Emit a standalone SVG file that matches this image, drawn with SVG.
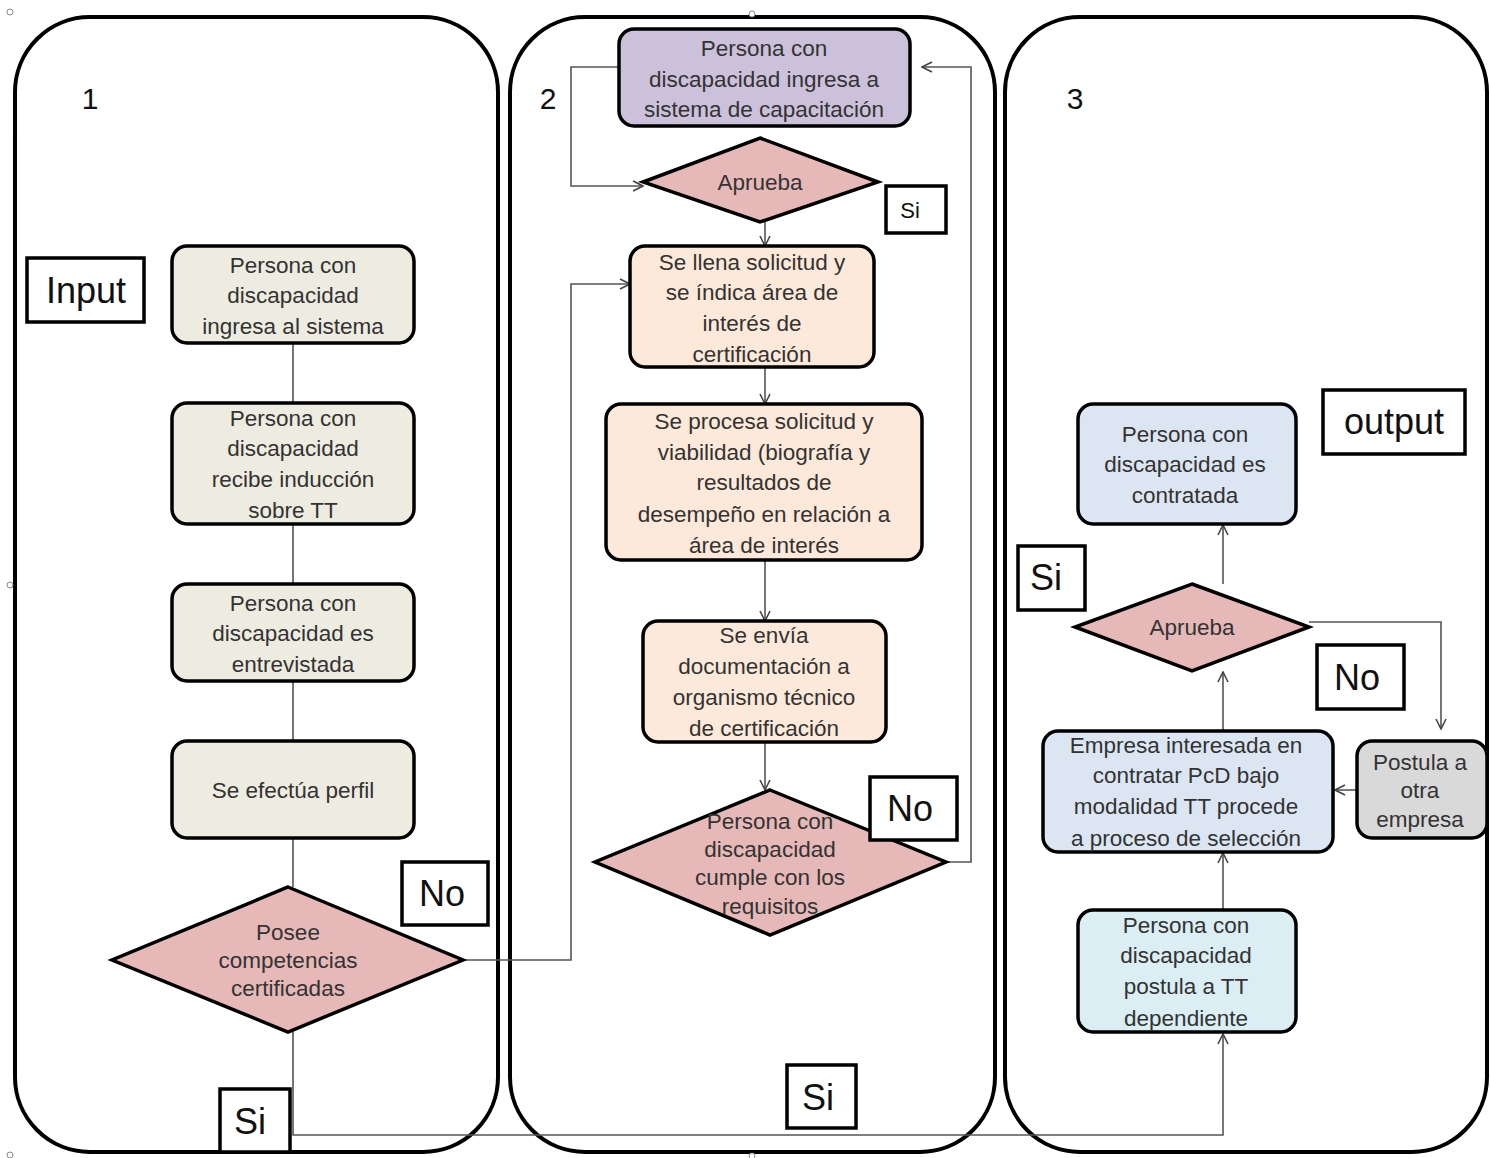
<svg xmlns="http://www.w3.org/2000/svg" width="1490" height="1158" viewBox="0 0 1490 1158">
<defs>
<marker id="arr" viewBox="0 0 12 12" refX="11" refY="6" markerWidth="12" markerHeight="12" markerUnits="userSpaceOnUse" orient="auto">
<path d="M1,1 L11,6 L1,11" fill="none" stroke="#444" stroke-width="1.6"/>
</marker>
<style>
.panel{fill:none;stroke:#000;stroke-width:4}
.node{stroke:#000;stroke-width:3.5}
.beige{fill:#eeece1}
.peach{fill:#fde9d9}
.purple{fill:#ccc1da}
.blue{fill:#dce6f2}
.cyan{fill:#daeef3}
.gray{fill:#d9d9d9}
.dia{fill:#e6b9b8;stroke:#000;stroke-width:3.5}
.lbl{fill:#fff;stroke:#000;stroke-width:3.5}
text{font-family:"Liberation Sans",Arial,sans-serif;fill:#333;text-anchor:middle;dominant-baseline:central}
.t{font-size:22.5px}
.big{font-size:36px;fill:#111}
.num{font-size:30px;fill:#111}
.conn{fill:none;stroke:#555;stroke-width:1.6}
.handle{fill:#fff;stroke:#888;stroke-width:1}
</style>
</defs>
<rect width="1490" height="1158" fill="#fff"/>

<g id="panels">
<rect class="panel" x="15" y="17" width="483" height="1135" rx="75"/>
<rect class="panel" x="510" y="17" width="485" height="1135" rx="75"/>
<rect class="panel" x="1005" y="17" width="482" height="1135" rx="75"/>
<text class="num" x="90" y="98">1</text>
<text class="num" x="548" y="98">2</text>
<text class="num" x="1075" y="98">3</text>
</g>

<g id="handles">
<circle class="handle" cx="10" cy="12" r="3"/>
<circle class="handle" cx="752" cy="14" r="3"/>
<circle class="handle" cx="10" cy="585" r="3"/>
<circle class="handle" cx="10" cy="1155" r="3"/>
<circle class="handle" cx="752" cy="1156" r="3"/>
</g>

<g id="connectors">
<path class="conn" d="M293,343 V403 M293,524 V584 M293,681 V741 M293,838 V887"/>
<path class="conn" d="M293,1032 V1135 H1223 V1034" marker-end="url(#arr)"/>
<path class="conn" d="M463,960 H571 V284 H630" marker-end="url(#arr)"/>
<path class="conn" d="M619,67 H571 V186 H643" marker-end="url(#arr)"/>
<path class="conn" d="M765,222 V246" marker-end="url(#arr)"/>
<path class="conn" d="M765,367 V404" marker-end="url(#arr)"/>
<path class="conn" d="M765,560 V621" marker-end="url(#arr)"/>
<path class="conn" d="M765,742 V790" marker-end="url(#arr)"/>
<path class="conn" d="M946,862 H971 V67 H922" marker-end="url(#arr)"/>
<path class="conn" d="M1223,584 V525" marker-end="url(#arr)"/>
<path class="conn" d="M1309,622 H1441 V729" marker-end="url(#arr)"/>
<path class="conn" d="M1223,731 V672" marker-end="url(#arr)"/>
<path class="conn" d="M1357,790 H1335" marker-end="url(#arr)"/>
<path class="conn" d="M1223,910 V853" marker-end="url(#arr)"/>
</g>

<g id="input-label">
<rect class="lbl" x="27" y="258" width="117" height="64"/>
<text class="big" x="86" y="290">Input</text>
</g>

<g id="n1-ingresa">
<rect class="node beige" x="172" y="246" width="242" height="97" rx="15"/>
<text class="t" x="293" y="265">Persona con</text>
<text class="t" x="293" y="295">discapacidad</text>
<text class="t" x="293" y="326">ingresa al sistema</text>
</g>

<g id="n1-induccion">
<rect class="node beige" x="172" y="403" width="242" height="121" rx="15"/>
<text class="t" x="293" y="418">Persona con</text>
<text class="t" x="293" y="448">discapacidad</text>
<text class="t" x="293" y="479">recibe inducción</text>
<text class="t" x="293" y="510">sobre TT</text>
</g>

<g id="n1-entrevistada">
<rect class="node beige" x="172" y="584" width="242" height="97" rx="15"/>
<text class="t" x="293" y="603">Persona con</text>
<text class="t" x="293" y="633">discapacidad es</text>
<text class="t" x="293" y="664">entrevistada</text>
</g>

<g id="n1-perfil">
<rect class="node beige" x="172" y="741" width="242" height="97" rx="15"/>
<text class="t" x="293" y="790">Se efectúa perfil</text>
</g>

<g id="d1-posee">
<polygon class="dia" points="288,887 463,960 288,1032 112,960"/>
<text class="t" x="288" y="932">Posee</text>
<text class="t" x="288" y="960">competencias</text>
<text class="t" x="288" y="988">certificadas</text>
</g>

<g id="lbl-no1">
<rect class="lbl" x="402" y="862" width="86" height="63"/>
<text class="big" x="442" y="893">No</text>
</g>

<g id="lbl-si1">
<rect class="lbl" x="220" y="1089" width="70" height="63"/>
<text class="big" x="250" y="1121">Si</text>
</g>

<g id="n2-capacitacion">
<rect class="node purple" x="619" y="29" width="291" height="97" rx="15"/>
<text class="t" x="764" y="48">Persona con</text>
<text class="t" x="764" y="79">discapacidad ingresa a</text>
<text class="t" x="764" y="109">sistema de capacitación</text>
</g>

<g id="d2-aprueba">
<polygon class="dia" points="760,138 878,182 760,222 643,182"/>
<text class="t" x="760" y="182">Aprueba</text>
</g>

<g id="lbl-si2a">
<rect class="lbl" x="886" y="186" width="60" height="47"/>
<text x="910" y="210" style="font-size:22px;fill:#111">Si</text>
</g>

<g id="n2-solicitud">
<rect class="node peach" x="630" y="246" width="244" height="121" rx="15"/>
<text class="t" x="752" y="262">Se llena solicitud y</text>
<text class="t" x="752" y="292">se índica área de</text>
<text class="t" x="752" y="323">interés de</text>
<text class="t" x="752" y="354">certificación</text>
</g>

<g id="n2-procesa">
<rect class="node peach" x="606" y="404" width="316" height="156" rx="15"/>
<text class="t" x="764" y="421">Se procesa solicitud y</text>
<text class="t" x="764" y="452">viabilidad (biografía y</text>
<text class="t" x="764" y="482">resultados de</text>
<text class="t" x="764" y="514">desempeño en relación a</text>
<text class="t" x="764" y="545">área de interés</text>
</g>

<g id="n2-envia">
<rect class="node peach" x="643" y="621" width="243" height="121" rx="15"/>
<text class="t" x="764" y="635">Se envía</text>
<text class="t" x="764" y="666">documentación a</text>
<text class="t" x="764" y="697">organismo técnico</text>
<text class="t" x="764" y="728">de certificación</text>
</g>

<g id="d2-cumple">
<polygon class="dia" points="770,790 946,862 770,935 595,862"/>
<text class="t" x="770" y="821">Persona con</text>
<text class="t" x="770" y="849">discapacidad</text>
<text class="t" x="770" y="877">cumple con los</text>
<text class="t" x="770" y="906">requisitos</text>
</g>

<g id="lbl-no2">
<rect class="lbl" x="870" y="777" width="87" height="63"/>
<text class="big" x="910" y="808">No</text>
</g>

<g id="lbl-si2b">
<rect class="lbl" x="787" y="1065" width="69" height="63"/>
<text class="big" x="818" y="1097">Si</text>
</g>

<g id="output-label">
<rect class="lbl" x="1323" y="390" width="142" height="64"/>
<text class="big" x="1394" y="421">output</text>
</g>

<g id="n3-contratada">
<rect class="node blue" x="1078" y="404" width="218" height="120" rx="15"/>
<text class="t" x="1185" y="434">Persona con</text>
<text class="t" x="1185" y="464">discapacidad es</text>
<text class="t" x="1185" y="495">contratada</text>
</g>

<g id="lbl-si3">
<rect class="lbl" x="1018" y="546" width="67" height="64"/>
<text class="big" x="1046" y="577">Si</text>
</g>

<g id="d3-aprueba">
<polygon class="dia" points="1192,584 1309,627 1192,671 1075,627"/>
<text class="t" x="1192" y="627">Aprueba</text>
</g>

<g id="lbl-no3">
<rect class="lbl" x="1317" y="645" width="87" height="64"/>
<text class="big" x="1357" y="677">No</text>
</g>

<g id="n3-empresa">
<rect class="node blue" x="1043" y="731" width="290" height="121" rx="15"/>
<text class="t" x="1186" y="745">Empresa interesada en</text>
<text class="t" x="1186" y="775">contratar PcD bajo</text>
<text class="t" x="1186" y="806">modalidad TT procede</text>
<text class="t" x="1186" y="838">a proceso de selección</text>
</g>

<g id="n3-postula-otra">
<rect class="node gray" x="1357" y="741" width="130" height="97" rx="15"/>
<text class="t" x="1420" y="762">Postula a</text>
<text class="t" x="1420" y="790">otra</text>
<text class="t" x="1420" y="819">empresa</text>
</g>

<g id="n3-postula-tt">
<rect class="node cyan" x="1078" y="910" width="218" height="122" rx="15"/>
<text class="t" x="1186" y="925">Persona con</text>
<text class="t" x="1186" y="955">discapacidad</text>
<text class="t" x="1186" y="986">postula a TT</text>
<text class="t" x="1186" y="1018">dependiente</text>
</g>
</svg>
